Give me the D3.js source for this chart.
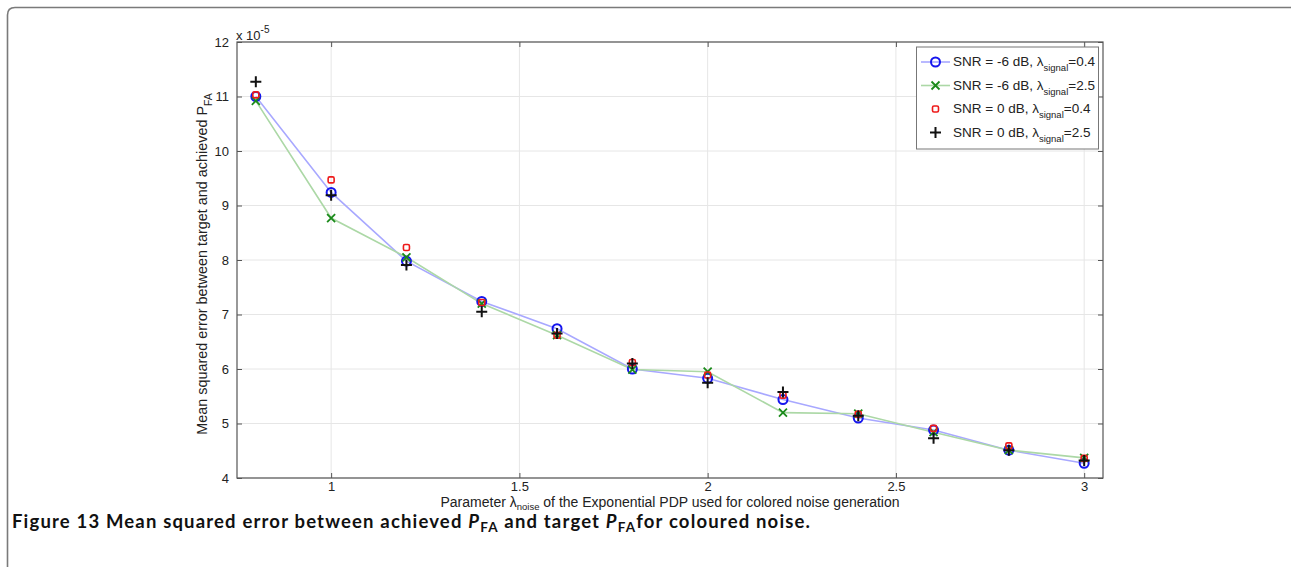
<!DOCTYPE html>
<html>
<head>
<meta charset="utf-8">
<script src="https://cdn.jsdelivr.net/npm/d3@7"></script>
<style>
  html, body { margin: 0; padding: 0; background: #fff; }
  svg { display: block; }
  .tick text { font-family: "Liberation Sans", Arial, sans-serif; font-size: 13px; fill: #222; }
</style>
</head>
<body>
<svg id="chart" width="1291" height="567"></svg>
<script>
// lambda_noise values
const lambdaNoise = [0.8, 1.0, 1.2, 1.4, 1.6, 1.8, 2.0, 2.2, 2.4, 2.6, 2.8, 3.0];
// MSE values, in units of 1e-5
const snrM6Lam04 = [11.0, 9.24, 7.98, 7.24, 6.74, 6.0, 5.83, 5.44, 5.1, 4.88, 4.51, 4.27];
const snrM6Lam25 = [10.92, 8.77, 8.05, 7.2, 6.62, 5.99, 5.95, 5.2, 5.18, 4.84, 4.51, 4.37];
const snr0Lam04 = [11.03, 9.47, 8.23, 7.22, 6.62, 6.12, 5.89, 5.52, 5.17, 4.91, 4.59, 4.36];
const snr0Lam25 = [11.27, 9.19, 7.91, 7.05, 6.65, 6.1, 5.75, 5.58, 5.14, 4.73, 4.51, 4.32];
const legendSnr = ["SNR = -6 dB, λ", "SNR = -6 dB, λ", "SNR = 0 dB, λ", "SNR = 0 dB, λ"];
const legendLam = ["=0.4", "=2.5", "=0.4", "=2.5"];
const xTicks = [1, 1.5, 2, 2.5, 3];
const yTicks = [4, 5, 6, 7, 8, 9, 10, 11, 12];

document.addEventListener('DOMContentLoaded', () => {
    const svg = d3.select("#chart");
    const font = '"Liberation Sans", Arial, sans-serif';

    // outer card
    svg.append("path")
        .attr("d", "M7.5,580 V15 Q7.5,7.5 15,7.5 H1300")
        .attr("fill", "none")
        .attr("stroke", "#7a7a7a")
        .attr("stroke-width", 1.6);

    const left = 237, right = 1103, top = 42, bottom = 478;
    const x = d3.scaleLinear().domain([0.75, 3.05]).range([left, right]);
    const y = d3.scaleLinear().domain([4, 12]).range([bottom, top]);

    // grid
    const grid = svg.append("g").attr("stroke", "#e6e6e6").attr("stroke-width", 1);
    grid.selectAll(".gx").data(xTicks).enter().append("line")
        .attr("x1", d => x(d)).attr("x2", d => x(d)).attr("y1", top).attr("y2", bottom);
    grid.selectAll(".gy").data(yTicks).enter().append("line")
        .attr("y1", d => y(d)).attr("y2", d => y(d)).attr("x1", left).attr("x2", right);

    // axes with inward ticks
    const axisColor = "#555";
    const gx = svg.append("g").attr("transform", `translate(0,${bottom})`)
        .call(d3.axisBottom(x).tickValues(xTicks).tickSizeInner(-5).tickSizeOuter(0).tickPadding(4).tickFormat(d3.format("")));
    const gy = svg.append("g").attr("transform", `translate(${left},0)`)
        .call(d3.axisLeft(y).tickValues(yTicks).tickSizeInner(-5).tickSizeOuter(0).tickPadding(8));
    const gxt = svg.append("g").attr("transform", `translate(0,${top})`)
        .call(d3.axisTop(x).tickValues(xTicks).tickSizeInner(-5).tickSizeOuter(0).tickFormat(""));
    const gyr = svg.append("g").attr("transform", `translate(${right},0)`)
        .call(d3.axisRight(y).tickValues(yTicks).tickSizeInner(-5).tickSizeOuter(0).tickFormat(""));
    [gx, gy, gxt, gyr].forEach(g => {
        g.select(".domain").remove();
        g.selectAll("line").attr("stroke", axisColor);
    });
    svg.append("rect")
        .attr("x", left).attr("y", top).attr("width", right - left).attr("height", bottom - top)
        .attr("fill", "none").attr("stroke", axisColor).attr("stroke-width", 1.2);

    // exponent
    const ex = svg.append("text").attr("x", left - 1).attr("y", 40)
        .attr("font-family", font).attr("font-size", 13).attr("fill", "#222");
    ex.append("tspan").text("x 10");
    ex.append("tspan").attr("dy", -7).attr("font-size", 10).text("-5");

    // axis labels
    const xl = svg.append("text").attr("x", 670).attr("y", 507).attr("text-anchor", "middle")
        .attr("font-family", font).attr("font-size", 14).attr("fill", "#222");
    xl.append("tspan").text("Parameter λ");
    xl.append("tspan").attr("dy", 2.5).attr("font-size", 9.5).text("noise");
    xl.append("tspan").attr("dy", -2.5).text(" of the Exponential PDP used for colored noise generation");

    const yl = svg.append("text").attr("transform", "translate(207,264) rotate(-90)").attr("text-anchor", "middle")
        .attr("font-family", font).attr("font-size", 14.4).attr("fill", "#222");
    yl.append("tspan").text("Mean squared error between target and achieved P");
    yl.append("tspan").attr("dy", 5).attr("font-size", 10.5).text("FA");

    // markers
    const markers = {
        circle: (g) => g.append("circle").attr("r", 4.5).attr("fill", "none").attr("stroke", "#1515ee").attr("stroke-width", 2),
        cross: (g) => g.append("path").attr("d", "M-4,-4L4,4M-4,4L4,-4").attr("stroke", "#1a8a1a").attr("stroke-width", 1.8),
        square: (g) => g.append("rect").attr("x", -3).attr("y", -3).attr("width", 6).attr("height", 6).attr("rx", 1.5)
            .attr("fill", "none").attr("stroke", "#ee1a1a").attr("stroke-width", 1.6),
        plus: (g) => g.append("path").attr("d", "M-5.5,0H5.5M0,-5.5V5.5").attr("stroke", "#111").attr("stroke-width", 2)
    };

    const series = [
        { values: snrM6Lam04, line: "#a8a8ff", marker: "circle" },
        { values: snrM6Lam25, line: "#acd8a6", marker: "cross" },
        { values: snr0Lam04, line: null, marker: "square" },
        { values: snr0Lam25, line: null, marker: "plus" }
    ];

    const lineGen = d3.line().x(d => x(d[0])).y(d => y(d[1]));
    series.forEach(s => {
        if (s.line) {
            svg.append("path")
                .datum(lambdaNoise.map((l, i) => [l, s.values[i]]))
                .attr("d", lineGen)
                .attr("fill", "none")
                .attr("stroke", s.line)
                .attr("stroke-width", 1.6);
        }
    });
    series.forEach(s => {
        svg.append("g").selectAll("g")
            .data(lambdaNoise.map((l, i) => [l, s.values[i]]))
            .enter().append("g")
            .attr("transform", d => `translate(${x(d[0])},${y(d[1])})`)
            .each(function() { markers[s.marker](d3.select(this)); });
    });

    // legend
    const lg = svg.append("g");
    lg.append("rect").attr("x", 916.5).attr("y", 47).attr("width", 182).attr("height", 102)
        .attr("fill", "#fff").attr("stroke", "#777").attr("stroke-width", 1);
    series.forEach((s, i) => {
        const cy = 62 + i * 23.5;
        if (s.line) {
            lg.append("line").attr("x1", 921).attr("x2", 950).attr("y1", cy).attr("y2", cy)
                .attr("stroke", s.line).attr("stroke-width", 1.6);
        }
        markers[s.marker](lg.append("g").attr("transform", `translate(935.5,${cy})`));
        const t = lg.append("text").attr("x", 953).attr("y", cy + 4)
            .attr("font-family", font).attr("font-size", 13.5).attr("fill", "#222");
        t.append("tspan").text(legendSnr[i]);
        t.append("tspan").attr("dy", 5).attr("font-size", 9.5).text("signal");
        t.append("tspan").attr("dy", -5).text(legendLam[i]);
    });

    // caption
    const cap = svg.append("text").attr("x", 12).attr("y", 528)
        .attr("font-family", "Lato, 'Open Sans', sans-serif").attr("font-size", 18.5)
        .attr("font-weight", "bold").attr("fill", "#111")
        .attr("textLength", 798).attr("lengthAdjust", "spacing");
    cap.append("tspan").text("Figure 13 Mean squared error between achieved ");
    cap.append("tspan").attr("font-style", "italic").text("P");
    cap.append("tspan").attr("dy", 4).attr("font-size", 13.5).text("FA");
    cap.append("tspan").attr("dy", -4).text(" and target ");
    cap.append("tspan").attr("font-style", "italic").text("P");
    cap.append("tspan").attr("dy", 4).attr("font-size", 13.5).text("FA");
    cap.append("tspan").attr("dy", -4).text("for coloured noise.");
});
</script>
</body>
</html>
